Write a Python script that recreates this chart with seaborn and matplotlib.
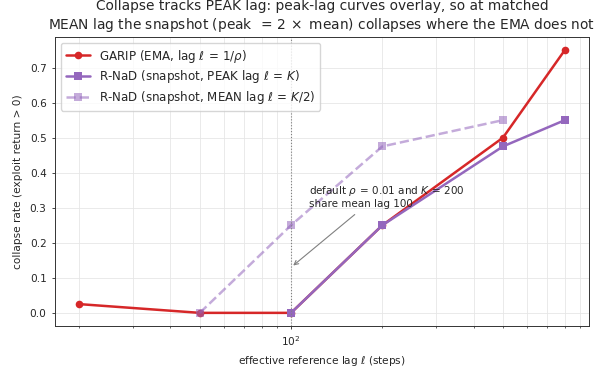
import matplotlib.pyplot as plt
import seaborn as sns
import pandas as pd

# lags (steps) and collapse rates
garip_lag = [20, 50, 100, 200, 500, 800]
garip_rate = [0.025, 0.0, 0.0, 0.25, 0.5, 0.75]
peak_lag = [100, 200, 500, 800]
peak_rate = [0.0, 0.25, 0.475, 0.55]
mean_lag = [50, 100, 200, 500]
mean_rate = [0.0, 0.25, 0.475, 0.55]

sns.set_theme(style='ticks')
plt.rcParams['font.family'] = ['DejaVu Sans']
plt.rcParams['font.size'] = 8
plt.rcParams['mathtext.fontset'] = 'dejavusans'

fig, ax = plt.subplots(figsize=(6.03, 3.73), dpi=100)
fig.subplots_adjust(left=0.091, right=0.977, top=0.901, bottom=0.126)

red = '#d62728'
purple = '#9467bd'

sns.lineplot(x=garip_lag, y=garip_rate, ax=ax, color=red, marker='o', lw=1.8,
             markersize=5.5, markeredgewidth=0, label=r'GARIP (EMA, lag $\ell\,=\,1/\rho$)')
sns.lineplot(x=peak_lag, y=peak_rate, ax=ax, color=purple, marker='s', lw=1.8,
             markersize=5.5, markeredgewidth=0, label=r'R-NaD (snapshot, PEAK lag $\ell\,=\,K$)')
sns.lineplot(x=mean_lag, y=mean_rate, ax=ax, color=purple, marker='s', lw=1.8,
             markersize=5.5, markeredgewidth=0, linestyle='--', alpha=0.55,
             label=r'R-NaD (snapshot, MEAN lag $\ell\,=\,K/2$)')

ax.set_xscale('log')
ax.axvline(100, color='gray', linestyle=':', lw=0.8)
ax.grid(True, which='both', color='#e6e6e6', lw=0.6)
ax.set_axisbelow(True)

ax.annotate('default $\\rho\\,=\\,0.01$ and $K\\,=\\,200$\nshare mean lag 100',
            xy=(100, 0.13), xytext=(115, 0.295), fontsize=7.5, ha='left', va='bottom',
            arrowprops=dict(arrowstyle='->', color='gray', lw=0.8, relpos=(0.33, 0)))

ax.set_xlabel(r'effective reference lag $\ell$ (steps)', fontsize=7.6)
ax.set_ylabel('collapse rate (exploit return > 0)', fontsize=7.6, labelpad=5)
ax.set_title('Collapse tracks PEAK lag: peak-lag curves overlay, so at matched\n'
             'MEAN lag the snapshot (peak $\\,=\\,2\\,\\times$ mean) collapses where the EMA does not',
             fontsize=9.9)
ax.tick_params(labelsize=7.6, width=0.6, length=2.5)
ax.tick_params(which='minor', width=0.5, length=1.6)
for s in ax.spines.values():
    s.set_color('#333333')
    s.set_linewidth(0.7)
ax.legend(loc='upper left', fontsize=8.6, labelspacing=0.3, frameon=True)

fig.savefig('out.png', dpi=100)
